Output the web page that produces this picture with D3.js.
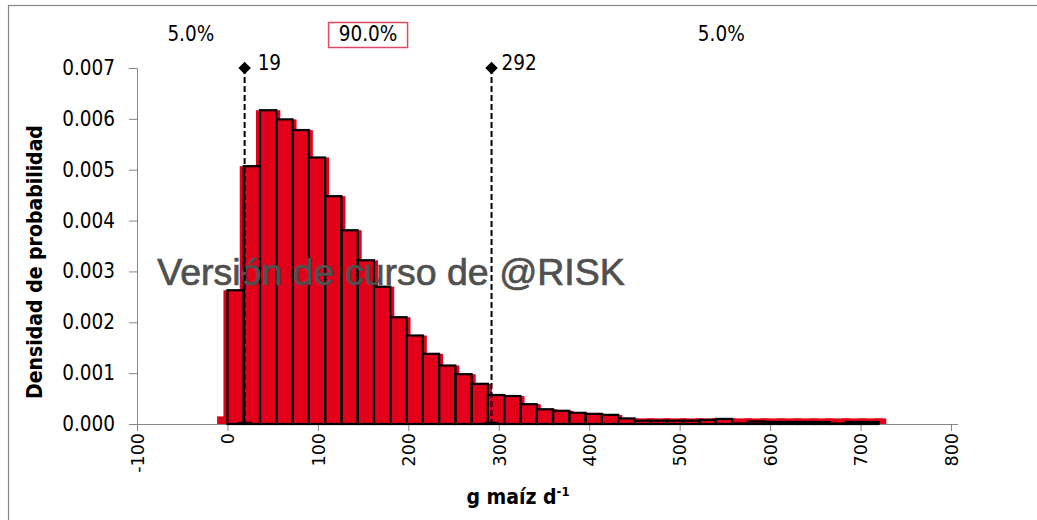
<!DOCTYPE html>
<html>
<head>
  <meta charset="UTF-8" />
  <title>Densidad g maiz</title>
  <script src="https://d3js.org/d3.v7.min.js"></script>
  <style>
    body { margin: 0; background: #fff; }
    svg { display: block; }
  </style>
</head>
<body>
<div id="chart"></div>
<script>
  // histogram bins (g maiz d-1) and densities
  var binStarts = [0, 18, 36, 54, 72, 90, 108, 126, 144, 162, 180, 198, 216, 234, 252, 270, 288, 306, 324, 342,
    360, 378, 396, 414, 432, 450, 468, 486, 504, 522, 540, 558, 576, 594, 612, 630, 648, 666, 684, 702];
  var binWidth = 18;
  var density = [0.00263, 0.00507, 0.00617, 0.00599, 0.00578, 0.00524, 0.00448, 0.00381, 0.00322, 0.00270,
    0.00210, 0.00174, 0.00138, 0.00115, 0.00098, 0.00079, 0.00057, 0.00055, 0.00039, 0.00029,
    0.00026, 0.00022, 0.00020, 0.00018, 0.00011, 0.000065, 0.000065, 0.000065, 0.000065, 0.00008,
    0.00010, 0.00001, 0.00005, 0.00004, 0.00004, 0.00004, 0.00004, 0.00001, 0.00004, 0.00004];
  // red filled series underneath (same bins, flatter tail)
  var redDensity = [0.00263, 0.00507, 0.00617, 0.00599, 0.00578, 0.00524, 0.00448, 0.00381, 0.00322, 0.00270,
    0.00210, 0.00174, 0.00138, 0.00115, 0.00098, 0.00079, 0.00057, 0.00055, 0.00039, 0.00029,
    0.00026, 0.00022, 0.00020, 0.00018, 0.00011, 0.00011, 0.00011, 0.00011, 0.00011, 0.00011,
    0.00011, 0.00011, 0.00011, 0.00011, 0.00011, 0.00011, 0.00011, 0.00011, 0.00011, 0.00011];
  var redFringe = [[-7, 0, 0.00015], [720, 724, 0.00011]];

  var markers = [19, 292];
  var percents = ["5.0%", "90.0%", "5.0%"];
  var xTicks = [-100, 0, 100, 200, 300, 400, 500, 600, 700, 800];
  var yTicks = [0, 0.001, 0.002, 0.003, 0.004, 0.005, 0.006, 0.007];

  var W = 1037, H = 520;
  var tahoma = "'DejaVu Sans Condensed', 'DejaVu Sans', sans-serif";
  var axisGrey = "#868686";
  var red = "#e2001a";

  var svg = d3.select("#chart")
    .append("svg")
    .attr("width", W)
    .attr("height", H);

  // outer chart frame
  svg.append("rect")
    .attr("x", 8.5).attr("y", 5.5)
    .attr("width", 1100).attr("height", 600)
    .attr("fill", "none")
    .attr("stroke", axisGrey)
    .attr("stroke-width", 1.2);

  var xScale = d3.scaleLinear().domain([-100, 800]).range([137, 951]);
  var yScale = d3.scaleLinear().domain([0, 0.007]).range([424, 68]);

  var bins = binStarts.map((s, i) => ({ x0: s, x1: s + binWidth, v: density[i], r: redDensity[i] }));

  // red fill, drawn a bit wider than the bins
  var pad = 4;
  var redBars = bins.map(d => [d.x0, d.x1, d.r]).concat(redFringe);
  svg.append("g")
    .selectAll("rect")
    .data(redBars)
    .enter()
    .append("rect")
    .attr("x", d => xScale(d[0]) - pad)
    .attr("width", d => xScale(d[1]) - xScale(d[0]) + 2 * pad)
    .attr("y", d => yScale(d[2]))
    .attr("height", d => yScale(0) - yScale(d[2]))
    .attr("fill", red);

  // axes
  var yAxis = d3.axisLeft(yScale)
    .tickValues(yTicks)
    .tickFormat(d3.format(".3f"))
    .tickSize(8)
    .tickPadding(14);
  var gy = svg.append("g")
    .attr("transform", "translate(137,0)")
    .call(yAxis);
  gy.select(".domain").attr("stroke", axisGrey).attr("d", "M-8,68.5H0.5V424");
  gy.selectAll(".tick line").attr("stroke", axisGrey);
  gy.selectAll(".tick text")
    .attr("fill", "#000")
    .style("font-family", tahoma)
    .style("font-size", "20.5px");

  var xAxis = d3.axisBottom(xScale)
    .tickValues(xTicks)
    .tickFormat(d => d.toString())
    .tickSize(7)
    .tickSizeOuter(0);
  var gx = svg.append("g")
    .attr("transform", "translate(0,424)")
    .call(xAxis);
  gx.select(".domain").attr("stroke", axisGrey).attr("d", "M137,0.5H958");
  gx.selectAll(".tick line").attr("stroke", axisGrey);
  gx.selectAll(".tick text")
    .attr("fill", "#000")
    .attr("text-anchor", "end")
    .attr("dy", "0.36em")
    .attr("y", 0)
    .attr("transform", "translate(0,9) rotate(-90)")
    .style("font-family", "'DejaVu Sans', sans-serif")
    .style("font-size", "17.5px");

  // black bar outlines
  svg.append("g")
    .selectAll("rect")
    .data(bins)
    .enter()
    .append("rect")
    .attr("x", d => xScale(d.x0))
    .attr("width", d => xScale(d.x1) - xScale(d.x0))
    .attr("y", d => yScale(d.v))
    .attr("height", d => yScale(0) - yScale(d.v))
    .attr("fill", "none")
    .attr("stroke", "#000")
    .attr("stroke-width", 2.2);

  // watermark
  svg.append("text")
    .attr("x", 391)
    .attr("y", 285)
    .attr("text-anchor", "middle")
    .attr("fill", "#505050")
    .attr("stroke", "#505050")
    .attr("stroke-width", 0.7)
    .style("font-family", "'Liberation Sans', Arial, sans-serif")
    .style("font-size", "37.5px")
    .text("Versión de curso de @RISK");

  // percentile markers
  var mk = svg.append("g");
  markers.forEach(function (m) {
    var x = xScale(m);
    mk.append("line")
      .attr("x1", x).attr("x2", x)
      .attr("y1", yScale(0.007)).attr("y2", yScale(0))
      .attr("stroke", "#000")
      .attr("stroke-width", 2)
      .attr("stroke-dasharray", "6,3");
    mk.append("line")
      .attr("x1", x - 7).attr("x2", x + 7)
      .attr("y1", yScale(0) - 1.5).attr("y2", yScale(0) - 1.5)
      .attr("stroke", "#000")
      .attr("stroke-width", 1.5);
    mk.append("path")
      .attr("d", d3.symbol(d3.symbolDiamond2, 100)())
      .attr("transform", "translate(" + x + "," + yScale(0.007) + ")")
      .attr("fill", "#000");
    mk.append("text")
      .attr("x", x + (m < 100 ? 13 : 10))
      .attr("y", yScale(0.007) - 5)
      .attr("dy", "0.35em")
      .attr("fill", "#000")
      .style("font-family", tahoma)
      .style("font-size", "20.5px")
      .text(m);
  });

  // percentages above the plot
  var bounds = [-100, markers[0], markers[1], 800];
  percents.forEach(function (p, i) {
    var cx = (xScale(bounds[i]) + xScale(bounds[i + 1])) / 2;
    svg.append("text")
      .attr("x", cx)
      .attr("y", 34)
      .attr("dy", "0.35em")
      .attr("text-anchor", "middle")
      .attr("fill", "#000")
      .style("font-family", tahoma)
      .style("font-size", "20.5px")
      .text(p);
    if (i == 1) {
      svg.append("rect")
        .attr("x", cx - 39.5).attr("y", 22.5)
        .attr("width", 79).attr("height", 25)
        .attr("fill", "none")
        .attr("stroke", "#e04a62")
        .attr("stroke-width", 1.5);
    }
  });

  // axis titles
  svg.append("text")
    .attr("transform", "translate(42,262) rotate(-90)")
    .attr("text-anchor", "middle")
    .attr("fill", "#000")
    .style("font-family", tahoma)
    .style("font-weight", "bold")
    .style("font-size", "21px")
    .text("Densidad de probabilidad");

  var xt = svg.append("text")
    .attr("x", 518)
    .attr("y", 504)
    .attr("text-anchor", "middle")
    .attr("fill", "#000")
    .style("font-family", tahoma)
    .style("font-weight", "bold")
    .style("font-size", "21px");
  xt.append("tspan").text("g maíz d");
  xt.append("tspan")
    .attr("dy", -8)
    .style("font-size", "13px")
    .text("-1");
</script>
</body>
</html>
